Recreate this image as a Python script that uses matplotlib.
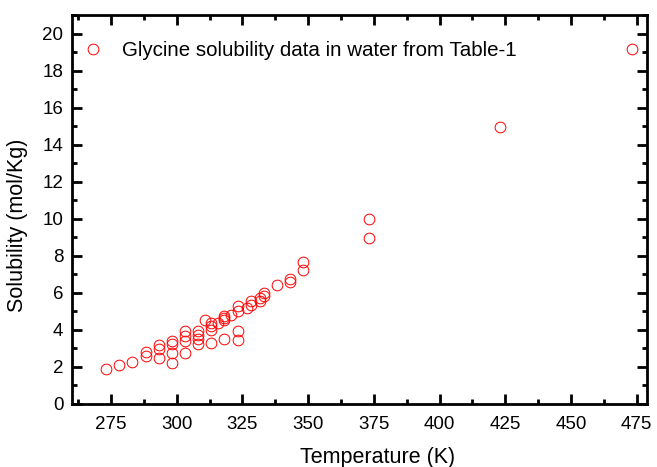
import numpy as np
import matplotlib
matplotlib.use('Agg')
import matplotlib.pyplot as plt
from matplotlib.ticker import MultipleLocator

plt.rcParams['font.family'] = ['Liberation Sans', 'DejaVu Sans']

# Glycine solubility in water
temperature = [273.15, 278.15, 283.15,
               288.15, 288.15,
               293.15, 293.15, 293.15,
               298.15, 298.15, 298.15, 298.15,
               303.15, 303.15, 303.15, 303.15,
               308.15, 308.15, 308.15, 308.15,
               310.65,
               313.15, 313.15, 313.15, 313.15,
               315.65,
               318.15, 318.15, 318.15, 318.15,
               320.65,
               323.15, 323.15, 323.15, 323.15,
               326.65,
               328.15, 328.15,
               331.65, 331.65,
               333.15, 333.15,
               338.15,
               343.15, 343.15,
               348.15, 348.15,
               373.15, 373.15,
               423.15, 473.15]
solubility = [1.88, 2.08, 2.28,
              2.8, 2.58,
              3.2, 2.95, 2.5,
              3.4, 3.22, 2.78, 2.2,
              3.95, 3.65, 3.4, 2.75,
              3.95, 3.75, 3.5, 3.25,
              4.55,
              4.38, 4.2, 4.0, 3.3,
              4.4,
              4.55, 4.73, 3.5, 4.65,
              4.82,
              5.27, 5.0, 3.95, 3.48,
              5.19,
              5.55, 5.37,
              5.73, 5.55,
              6.0, 5.82,
              6.42,
              6.75, 6.6,
              7.65, 7.25,
              10.0, 8.95,
              14.97, 19.2]

fig = plt.figure(figsize=(6.57, 4.67), dpi=100)
ax = fig.add_axes([0.109, 0.135, 0.876, 0.832])

ax.plot(temperature, solubility, 'o', mfc='none', mec='#ff0000', ms=7.7, mew=0.7,
        label='Glycine solubility data in water from Table-1')

ax.set_xlim(260, 479)
ax.set_ylim(0, 21)
ax.xaxis.set_major_locator(MultipleLocator(25))
ax.xaxis.set_minor_locator(MultipleLocator(12.5))
ax.yaxis.set_major_locator(MultipleLocator(2))
ax.yaxis.set_minor_locator(MultipleLocator(1))
ax.set_xticks([275, 300, 325, 350, 375, 400, 425, 450, 475])

for s in ax.spines.values():
    s.set_linewidth(2)
ax.tick_params(which='both', direction='in', top=True, right=True, labelsize=13.5)
ax.tick_params(which='major', length=7, width=2)
ax.tick_params(which='minor', length=3.5, width=2)
ax.tick_params(axis='x', pad=9)
ax.tick_params(axis='y', pad=6)

ax.set_xlabel('Temperature (K)', fontsize=15.5)
ax.set_ylabel('Solubility (mol/Kg)', fontsize=15.5)
ax.xaxis.set_label_coords(0.532, -0.112)
ax.yaxis.set_label_coords(-0.076, 0.46)

ax.legend(loc='upper left', bbox_to_anchor=(-0.005, 0.97), frameon=False,
          fontsize=14.8, handlelength=1.0, handletextpad=0.9, borderaxespad=0.3)

fig.savefig('out.png', dpi=100)
